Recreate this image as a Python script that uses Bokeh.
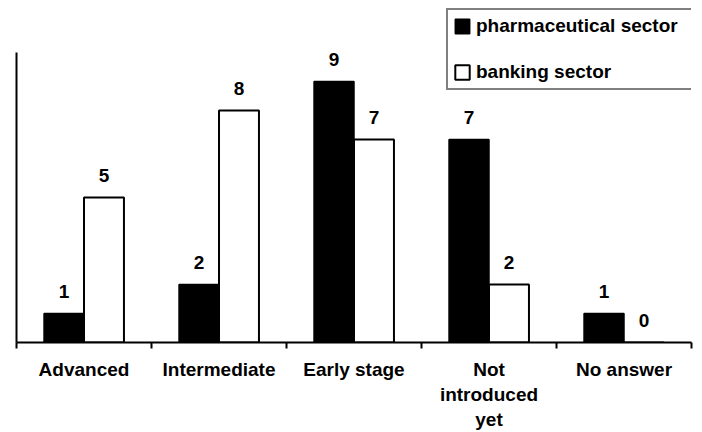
from bokeh.plotting import figure
from bokeh.models import (ColumnDataSource, Range1d, FixedTicker, LabelSet, Legend, LegendItem)
from bokeh.core.properties import value
from bokeh.transform import dodge
from bokeh.embed import file_html
from bokeh.resources import INLINE

categories = ["Advanced", "Intermediate", "Early stage", "Not\nintroduced\nyet", "No answer"]
pharmaceutical = [1, 2, 9, 7, 1]
banking = [5, 8, 7, 2, 0]
series_names = ["pharmaceutical sector", "banking sector"]
y_axis_max = 10

FONT = "Liberation Sans"
n = len(categories)
centers = [i + 0.5 for i in range(n)]

src = ColumnDataSource(dict(
    x=centers,
    pharma=pharmaceutical,
    bank=banking,
    pharma_txt=[str(v) for v in pharmaceutical],
    bank_txt=[str(v) for v in banking],
))

# frame spans the full top so the legend (drawn in the frame) is not clipped;
# y value 10 sits at 290 px above the baseline as in the reference
frame_h = 342
y_top = y_axis_max * frame_h / 290.0

p = figure(width=702, height=432, output_backend="svg", toolbar_location=None,
           x_range=Range1d(0, n), y_range=Range1d(0, y_top),
           min_border_left=16, min_border_right=11, min_border_top=0, min_border_bottom=89)
p.outline_line_color = None
p.grid.visible = False
p.background_fill_color = "white"
p.border_fill_color = "white"

bw = 0.296
r1 = p.vbar(x=dodge("x", -0.148, range=p.x_range), top="pharma", width=bw, bottom=0, source=src,
            fill_color="black", line_color="black", line_width=1.5)
r2 = p.vbar(x=dodge("x", 0.148, range=p.x_range), top="bank", width=bw, bottom=0, source=src,
            fill_color="white", line_color="black", line_width=2)

for col, txt, off in (("pharma", "pharma_txt", -0.148), ("bank", "bank_txt", 0.148)):
    ls = LabelSet(x=dodge("x", off, range=p.x_range), y=col, text=txt, source=src,
                  text_align="center", text_baseline="alphabetic", y_offset=16,
                  text_font=value(FONT), text_font_style="bold", text_font_size="19px",
                  text_color="black")
    p.add_layout(ls)

# axes
p.yaxis.ticker = FixedTicker(ticks=[])
p.yaxis.bounds = (0, y_axis_max)
p.yaxis.axis_line_width = 2
p.yaxis.axis_line_color = "black"
p.yaxis.major_tick_line_color = None
p.yaxis.minor_tick_line_color = None
p.yaxis.major_label_text_font_size = "0px"

p.xaxis.ticker = FixedTicker(ticks=centers, minor_ticks=list(range(n + 1)))
p.xaxis.major_label_overrides = {c: lab for c, lab in zip(centers, categories)}
p.xaxis.axis_line_width = 2
p.xaxis.axis_line_color = "black"
p.xaxis.major_tick_line_color = None
p.xaxis.major_tick_out = 0
p.xaxis.major_tick_in = 0
p.xaxis.minor_tick_line_color = "black"
p.xaxis.minor_tick_line_width = 2
p.xaxis.minor_tick_out = 6
p.xaxis.minor_tick_in = 0
p.xaxis.major_label_standoff = 10
p.xaxis.major_label_text_font = FONT
p.xaxis.major_label_text_font_style = "bold"
p.xaxis.major_label_text_font_size = "19px"
p.xaxis.major_label_text_color = "black"
p.xaxis.major_label_text_line_height = 1.2

legend = Legend(items=[LegendItem(label=series_names[0], renderers=[r1]),
                       LegendItem(label=series_names[1], renderers=[r2])],
                location=(430, 252), orientation="vertical",
                border_line_color="black", border_line_width=2,
                background_fill_color="white", background_fill_alpha=1,
                padding=5, spacing=24, margin=0,
                glyph_width=18, glyph_height=18, label_standoff=5,
                label_width=216, label_height=22,
                label_text_font=FONT, label_text_font_style="bold",
                label_text_font_size="19px", label_text_color="black")
p.add_layout(legend)

open("out.html", "w").write(file_html(p, INLINE))
